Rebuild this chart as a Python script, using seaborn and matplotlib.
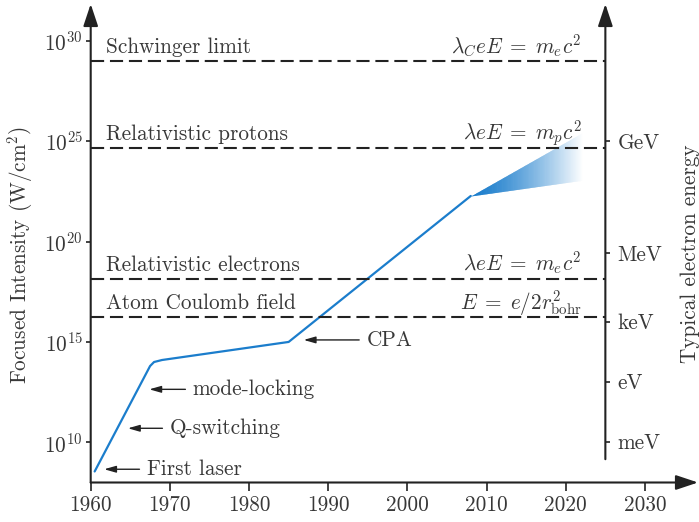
import numpy as np
import pandas as pd
import matplotlib
matplotlib.use("Agg")
import matplotlib.pyplot as plt
import matplotlib.colors as mcolors
from matplotlib.ticker import NullLocator
import seaborn as sns

# ---------------- data ----------------
years = [1960.5, 1967.5, 1968.0, 1969.0, 1985.0, 2008.0]
log_intensity = [8.55, 13.8, 14.0, 14.1, 15.0, 22.27]

fan_years = [2008.0, 2022.0]
fan_upper_log = [22.27, 25.4]
fan_lower_log = [22.27, 23.05]

limit_names = ["Schwinger limit", "Relativistic protons",
               "Relativistic electrons", "Atom Coulomb field"]
limit_formulas = [r"$\lambda_C eE \;=\; m_e c^2$", r"$\lambda eE \;=\; m_p c^2$",
                  r"$\lambda eE \;=\; m_e c^2$", r"$E \;=\; e/2r_\mathrm{bohr}^2$"]
limit_log = [29.0, 24.67, 18.12, 16.23]

milestones = ["First laser", "Q-switching", "mode-locking", "CPA"]
milestone_year = [1961.7, 1964.7, 1967.4, 1986.9]
milestone_log = [8.66, 10.70, 12.64, 15.10]
milestone_text_year = [1967.1, 1970.0, 1972.9, 1994.85]

x_ticks = [1960, 1970, 1980, 1990, 2000, 2010, 2020, 2030]
y_ticks_log = [10, 15, 20, 25, 30]
y_tick_labels = [r"$10^{10}$", r"$10^{15}$", r"$10^{20}$", r"$10^{25}$", r"$10^{30}$"]

energy_labels = ["GeV", "MeV", "keV", "eV", "meV"]
energy_log = [25.0, 19.41, 16.01, 13.02, 10.03]

# ---------------- style ----------------
sns.set_theme(style="white")
plt.rcParams.update({
    "font.family": "serif",
    "font.serif": ["cmr10"],
    "mathtext.fontset": "cm",
    "axes.unicode_minus": False,
    "axes.formatter.use_mathtext": True,
    "font.size": 15,
})

text_c = "#383838"
axis_c = "#222222"
line_c = "#1b7dcc"
fs = 15.3

fig = plt.figure(figsize=(6.99, 5.22), dpi=100)
ax = fig.add_axes([90.7 / 699, (522 - 482.5) / 522, (698 - 90.7) / 699, 478.5 / 522])

xmin, xmax = 1960.0, 2036.7
ymin, ymax = 1e8, 10 ** 31.83
right_year = 2025.0
ax.set_yscale("log")
ax.set_xlim(xmin, xmax)
ax.set_ylim(ymin, ymax)

for s in ax.spines.values():
    s.set_visible(False)

# main axis arrows
arrow_style = "-|>,head_length=1.35,head_width=0.45"
arrow_kw = dict(arrowstyle=arrow_style, lw=1.5, color=axis_c,
                shrinkA=0, shrinkB=0, mutation_scale=10)
ax.annotate("", xy=(0, 1), xytext=(0, 0), xycoords="axes fraction",
            arrowprops=arrow_kw, zorder=5)
ax.annotate("", xy=(1, 0), xytext=(0, 0), xycoords="axes fraction",
            arrowprops=arrow_kw, zorder=5)
# right axis arrow
ax.annotate("", xy=(right_year, ymax), xytext=(right_year, 10 ** 9.16),
            xycoords="data", arrowprops=arrow_kw, zorder=5,
            annotation_clip=False)

# ticks
ax.set_xticks(x_ticks)
ax.set_xticklabels([str(v) for v in x_ticks])
ax.set_yticks([10.0 ** v for v in y_ticks_log])
ax.set_yticklabels(y_tick_labels)
ax.yaxis.set_minor_locator(NullLocator())
ax.tick_params(axis="x", direction="out", length=5.5, width=1.2, color=axis_c,
               labelcolor=text_c, labelsize=fs, pad=4, bottom=True)
ax.tick_params(axis="y", direction="out", length=3.6, width=1.2, color=axis_c,
               labelcolor=text_c, labelsize=fs, pad=2, left=True)

# secondary (energy) axis
loc = (right_year - xmin) / (xmax - xmin)
sec = ax.secondary_yaxis(loc)
sec.set_yticks([10.0 ** v for v in energy_log])
sec.set_yticklabels(energy_labels)
sec.yaxis.set_minor_locator(NullLocator())
for s in sec.spines.values():
    s.set_visible(False)
sec.tick_params(axis="y", direction="out", length=3.6, width=1.2, color=axis_c,
                labelcolor=text_c, labelsize=fs, pad=5)

# dashed limits
ax.hlines([10.0 ** v for v in limit_log], xmin, right_year, colors=axis_c,
          linestyles=[(0, (6.3, 2.8))], linewidth=1.5, zorder=3)
for name, formula, lv in zip(limit_names, limit_formulas, limit_log):
    yb = 10.0 ** (lv + 0.4)
    ax.text(1961.9, yb, name, ha="left", va="baseline", color=text_c, fontsize=fs)
    ax.text(2022.0, yb, formula, ha="right", va="baseline", color=text_c, fontsize=fs)

# laser intensity line
df = pd.DataFrame({"year": years, "intensity": [10.0 ** v for v in log_intensity]})
sns.lineplot(data=df, x="year", y="intensity", ax=ax, color=line_c, lw=1.6,
             zorder=2.5, sort=False)

# fading fan
n = 90
xs = np.linspace(fan_years[0], fan_years[1], n + 1)
blue = np.array(mcolors.to_rgb(line_c))
span = fan_years[1] - fan_years[0]
for i in range(n):
    x0 = xs[i]
    x1 = min(xs[i + 1] + 0.6 * span / n, fan_years[1])
    xx = np.array([x0, x1])
    up = 10.0 ** np.interp(xx, fan_years, fan_upper_log)
    lo = 10.0 ** np.interp(xx, fan_years, fan_lower_log)
    t = (x0 - fan_years[0]) / span
    f = min(1.0, t ** 1.4)
    c = blue * (1 - f) + f * np.ones(3)
    ax.fill_between(xx, lo, up, color=c, lw=0, zorder=2)

# milestone annotations
for name, yr, lv, ty in zip(milestones, milestone_year, milestone_log, milestone_text_year):
    ax.annotate(name, xy=(yr, 10.0 ** lv), xytext=(ty, 10.0 ** lv),
                ha="left", va="center", color=text_c, fontsize=fs,
                arrowprops=dict(arrowstyle="-|>,head_length=0.7,head_width=0.2",
                                lw=1.0, color=axis_c, shrinkA=3, shrinkB=0,
                                mutation_scale=10), zorder=4)

# axis labels
ax.set_xlabel("")
ax.set_ylabel(r"Focused Intensity (W/cm$^2$)", color=text_c, fontsize=fs, va="center")
ax.yaxis.set_label_coords((20 - 90.7) / 607.3, (482.5 - 255) / 478.5)
fig.text(690 / 699, 1 - 254 / 522, "Typical electron energy", rotation=90,
         ha="center", va="center", color=text_c, fontsize=fs)

fig.savefig("out.png", dpi=100)
